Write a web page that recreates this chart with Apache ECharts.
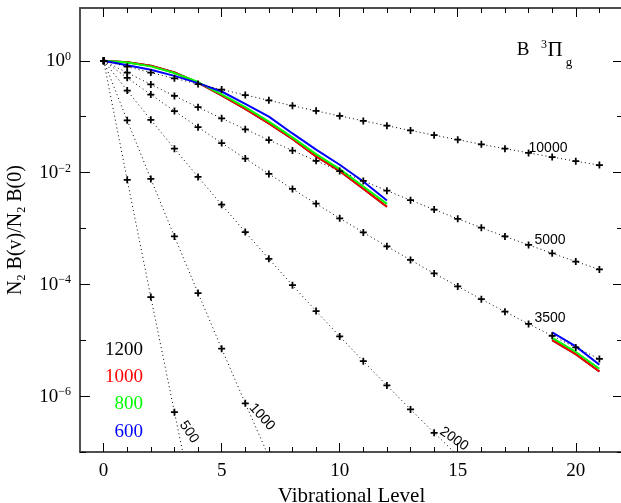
<!DOCTYPE html>
<html>
<head>
<meta charset="utf-8">
<script src="https://cdn.jsdelivr.net/npm/echarts@6/dist/echarts.min.js"></script>
<style>
  html, body { margin: 0; padding: 0; background: #fff; }
  #chart { width: 621px; height: 503px; }
</style>
</head>
<body>
<div id="chart"></div>
<script>
// dotted reference curves (one value per vibrational level, from v = 0)
const boltz500 = [1, 7.40e-3, 5.93e-5, 5.16e-7, 4.88e-9];
const boltz1000 = [1, 0.0860, 7.70e-3, 7.19e-4, 6.98e-5, 7.06e-6, 7.45e-7, 8.17e-8];
const boltz2000 = [1, 0.293, 0.0878, 0.0268, 8.36e-3, 2.66e-3, 8.63e-4, 2.86e-4, 9.66e-5,
  3.33e-5, 1.17e-5, 4.22e-6, 1.55e-6, 5.79e-7, 2.21e-7, 8.63e-8];
const boltz3500 = [1, 0.496, 0.249, 0.126, 0.0649, 0.0338, 0.0178, 9.44e-3, 5.08e-3, 2.77e-3,
  1.52e-3, 8.48e-4, 4.78e-4, 2.73e-4, 1.57e-4, 9.19e-5, 5.43e-5, 3.24e-5, 1.96e-5, 1.20e-5,
  7.41e-6, 4.63e-6];
const boltz5000 = [1, 0.612, 0.378, 0.235, 0.1475, 0.0933, 0.0595, 0.0382, 0.0248, 0.0162,
  0.01066, 7.08e-3, 4.74e-3, 3.20e-3, 2.18e-3, 1.49e-3, 1.03e-3, 7.20e-4, 5.06e-4, 3.59e-4,
  2.56e-4, 1.85e-4];
const boltz10000 = [1, 0.783, 0.615, 0.485, 0.384, 0.305, 0.244, 0.196, 0.157, 0.127, 0.103,
  0.0841, 0.0688, 0.0566, 0.0467, 0.0387, 0.0321, 0.0268, 0.0225, 0.0189, 0.0160, 0.0136];

// model populations (solid lines)
const modelLevels = [0, 1, 2, 3, 4, 5, 6, 7, 8, 9, 10, 11, 12, 19, 20, 21];
const model1200 = [1, 0.944, 0.813, 0.617, 0.407, 0.240, 0.138, 0.0759, 0.0398, 0.0195, 0.0107,
  5.13e-3, 2.45e-3, 1.00e-5, 5.62e-6, 2.75e-6];
const model1000 = [1, 0.944, 0.813, 0.617, 0.407, 0.240, 0.138, 0.0759, 0.0398, 0.0195, 0.0107,
  5.13e-3, 2.45e-3, 1.00e-5, 5.62e-6, 2.75e-6];
const model800 = [1, 0.933, 0.794, 0.603, 0.417, 0.251, 0.148, 0.0813, 0.0427, 0.0214, 0.0115,
  5.62e-3, 2.75e-3, 1.10e-5, 6.17e-6, 3.09e-6];
const model600 = [1, 0.832, 0.692, 0.537, 0.398, 0.282, 0.170, 0.100, 0.0501, 0.0257, 0.0138,
  6.92e-3, 3.16e-3, 1.38e-5, 7.76e-6, 3.63e-6];

// ticks
const xMajor = [0, 5, 10, 15, 20];
const xMinor = [1, 2, 3, 4, 6, 7, 8, 9, 11, 12, 13, 14, 16, 17, 18, 19, 21];
const yMajor = [1, 1e-2, 1e-4, 1e-6];
const yMinor = [1e-1, 1e-3, 1e-5, 1e-7];

const boltzNames = ['500', '1000', '2000', '3500', '5000', '10000'];
const boltzData = [boltz500, boltz1000, boltz2000, boltz3500, boltz5000, boltz10000];
const modelNames = ['1200', '1000', '800', '600'];
const modelData = [model1200, model1000, model800, model600];
const modelColors = ['#000000', '#ff0000', '#00ff00', '#0000ff'];

const serif = '"Liberation Serif", "DejaVu Serif", serif';
const sans = '"Liberation Sans", Arial, sans-serif';
const plusPath = 'path://M3,0H5V3H8V5H5V8H3V5H0V3H3Z';
const axisColor = '#444';

const chart = echarts.init(document.getElementById('chart'));

function xAxisOf(position, ticks, len, labels) {
  return {
    type: 'value', position: position, min: -1, max: 22,
    splitLine: { show: false },
    axisLine: { show: true, onZero: false, lineStyle: { color: axisColor, width: 1.5 } },
    axisTick: { show: true, inside: true, length: len, customValues: ticks,
      lineStyle: { color: '#000', width: 1 } },
    axisLabel: labels ? {
      show: true, customValues: ticks, margin: 10,
      fontFamily: serif, fontSize: 19, color: '#000'
    } : { show: false }
  };
}

function yAxisOf(position, ticks, len, labels) {
  return {
    type: 'log', logBase: 10, position: position, min: 1e-7, max: 8.8,
    splitLine: { show: false },
    axisLine: { show: true, onZero: false, lineStyle: { color: axisColor, width: 1.5 } },
    axisTick: { show: true, inside: true, length: len, customValues: ticks,
      lineStyle: { color: '#000', width: 1 } },
    axisLabel: labels ? {
      show: true, customValues: ticks, margin: 9,
      formatter: function (value) {
        const e = Math.round(Math.log10(value));
        return '{b|10}{s|' + (e === 0 ? '0' : '\u2212' + (-e)) + '}';
      },
      rich: {
        b: { fontFamily: serif, fontSize: 19, lineHeight: 20, color: '#000', verticalAlign: 'bottom' },
        s: { fontFamily: serif, fontSize: 12, lineHeight: 13, color: '#000', verticalAlign: 'top' }
      }
    } : { show: false }
  };
}

const xAxes = [
  xAxisOf('bottom', xMajor, 9, true),
  xAxisOf('bottom', xMinor, 5, false),
  xAxisOf('top', xMajor, 9, false),
  xAxisOf('top', xMinor, 5, false)
];
xAxes[0].name = 'Vibrational Level';
xAxes[0].nameLocation = 'middle';
xAxes[0].nameGap = 32;
xAxes[0].nameTextStyle = { fontFamily: serif, fontSize: 21, color: '#000' };

const yAxes = [
  yAxisOf('left', yMajor, 10, true),
  yAxisOf('left', yMinor, 6, false),
  yAxisOf('right', yMajor, 10, false),
  yAxisOf('right', yMinor, 6, false)
];
yAxes[0].name = '{a|N}{s|2}{a| B(v)/N}{s|2}{a| B(0)}';
yAxes[0].nameLocation = 'middle';
yAxes[0].nameRotate = 90;
yAxes[0].nameGap = 52;
yAxes[0].nameTextStyle = {
  rich: {
    a: { fontFamily: serif, fontSize: 20, lineHeight: 22, color: '#000', verticalAlign: 'top' },
    s: { fontFamily: serif, fontSize: 12, lineHeight: 13, color: '#000', verticalAlign: 'bottom' }
  }
};

const series = [];
modelData.forEach(function (arr, i) {
  const data = [];
  modelLevels.forEach(function (v, k) {
    if (k > 0 && v - modelLevels[k - 1] > 1) data.push([v - 1, '-']);
    data.push([v, arr[k]]);
  });
  series.push({
    name: modelNames[i], type: 'line', data: data, showSymbol: false,
    connectNulls: false, clip: true,
    lineStyle: { color: modelColors[i], width: 2 }, itemStyle: { color: modelColors[i] }
  });
});
boltzData.forEach(function (arr, i) {
  series.push({
    name: boltzNames[i] + ' K', type: 'line',
    data: arr.map(function (y, v) { return [v, y]; }),
    symbol: plusPath, symbolSize: 7, showSymbol: true, clip: true,
    lineStyle: { color: '#000', width: 1, type: [1, 3] },
    itemStyle: { color: '#000' }
  });
});

function txt(text, x, y, font, color, align, rot) {
  return {
    type: 'text', x: x, y: y, rotation: rot || 0,
    style: { text: text, font: font, fill: color || '#000',
      align: align || 'center', verticalAlign: 'middle' }
  };
}

const graphics = [
  // curve labels
  txt('10000', 548, 148, '14px ' + sans),
  txt('5000', 550, 240, '14px ' + sans),
  txt('3500', 550, 318, '14px ' + sans),
  txt('2000', 454, 439, '14px ' + sans, '#000', 'center', -0.61),
  txt('1000', 262, 417, '14px ' + sans, '#000', 'center', -0.84),
  txt('500', 189, 432, '14px ' + sans, '#000', 'center', -0.98),
  // state label
  txt('B', 523, 50, '19px ' + serif),
  txt('3', 544, 45, '12px ' + serif),
  txt('\u03A0', 555, 50, '21px ' + serif),
  txt('g', 569, 63, '13px ' + serif)
];
modelNames.forEach(function (n, i) {
  graphics.push(txt(n, 143, 350 + i * 27.2, '19px ' + serif, modelColors[i], 'right'));
});

chart.setOption({
  backgroundColor: '#fff',
  animation: false,
  grid: { left: 80, right: -2, top: 8, bottom: 51, containLabel: false, outerBoundsMode: 'none' },
  xAxis: xAxes,
  yAxis: yAxes,
  series: series,
  graphic: graphics
});
</script>
</body>
</html>
